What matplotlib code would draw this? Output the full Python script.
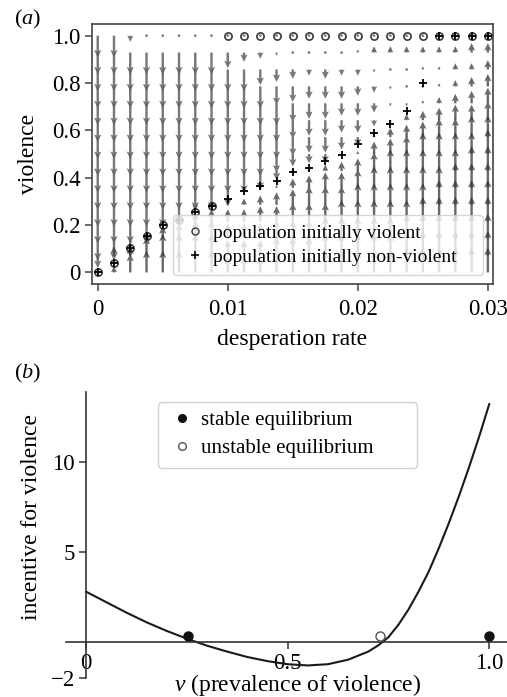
import numpy as np
import matplotlib
matplotlib.use('Agg')
import matplotlib.pyplot as plt
from matplotlib.lines import Line2D

plt.rcParams['font.family'] = ['Liberation Serif', 'DejaVu Serif']
plt.rcParams['mathtext.fontset'] = 'custom'
plt.rcParams['mathtext.rm'] = 'Liberation Serif'
plt.rcParams['mathtext.it'] = 'Liberation Serif:italic'

# ---------------- panel (a) data ----------------
desperation = [0.0, 0.00125, 0.0025, 0.00375, 0.005, 0.00625, 0.0075, 0.00875,
               0.01, 0.01125, 0.0125, 0.01375, 0.015, 0.01625, 0.0175, 0.01875,
               0.02, 0.02125, 0.0225, 0.02375, 0.025, 0.02625, 0.0275, 0.02875, 0.03]
violence_levels = [0.0, 0.0714, 0.1429, 0.2143, 0.2857, 0.3571, 0.4286, 0.5,
                   0.5714, 0.6429, 0.7143, 0.7857, 0.8571, 0.9286, 1.0]
# arrow length (hundredths of violence) per column, bottom -> top
arrow_len = [
    [0, -4, -7, -7, -7, -7, -7, -7, -7, -7, -7, -7, -7, -7, -7],
    [2, 3, -7, -7, -7, -7, -7, -7, -7, -7, -7, -7, -7, -7, -7],
    [6, 3, -6, -7, -7, -7, -7, -7, -7, -7, -7, -7, -7, -7, -2],
    [7, 6, 1, -7, -7, -7, -7, -7, -7, -7, -7, -7, -7, -7, 0],
    [7, 7, 4, -1, -7, -7, -7, -7, -7, -7, -7, -7, -7, -7, 0],
    [7, 7, 5, 0, -7, -7, -7, -7, -7, -7, -7, -7, -7, -7, 0],
    [7, 7, 6, 3, -2, -7, -7, -7, -7, -7, -7, -7, -7, -7, 0],
    [7, 7, 6, 4, 0, -7, -7, -7, -7, -7, -7, -7, -7, -7, 0],
    [5, 5, 5, 4, 1, -6, -7, -7, -7, -7, -7, -7, -7, -5, 0],
    [5, 5, 5, 4, 2, -1, -7, -7, -7, -7, -7, -7, -7, -3, 0],
    [5, 5, 5, 5, 3, 0, -6, -7, -7, -7, -7, -7, -5, -2, 0],
    [6, 6, 6, 5, 4, 1, -3, -6, -7, -7, -7, -6, -4, -1, 0],
    [6, 6, 6, 6, 5, 3, 0, -4, -6, -6, -6, -5, -3, 0, 0],
    [6, 6, 6, 6, 6, 4, 1, -3, -5, -5, -5, -4, -2, 0, 0],
    [7, 7, 7, 6, 6, 5, 2, -3, -5, -5, -5, -4, -3, 0, 0],
    [7, 7, 7, 7, 6, 5, 3, -1, -4, -4, -4, -4, -2, 0, 0],
    [7, 7, 7, 7, 7, 6, 4, 1, -3, -4, -4, -3, -2, 1, 0],
    [7, 7, 7, 7, 7, 7, 6, 4, 1, -2, -3, -2, -1, 2, 0],
    [7, 7, 7, 7, 7, 7, 7, 5, 3, -1, -1, -1, 0, 2, 0],
    [8, 8, 8, 7, 7, 7, 7, 6, 4, 2, -1, 0, 0, 2, 0],
    [8, 8, 8, 8, 7, 7, 7, 7, 5, 3, 1, 0, 1, 2, 0],
    [8, 8, 8, 8, 8, 7, 7, 7, 6, 4, 2, 1, 1, 2, 0],
    [8, 8, 8, 8, 8, 8, 7, 7, 6, 5, 3, 2, 2, 2, 0],
    [8, 8, 8, 8, 8, 8, 8, 7, 7, 5, 4, 3, 2, 3, 0],
    [8, 8, 8, 8, 8, 8, 8, 8, 7, 6, 5, 4, 3, 3, 0],
]
eq_violent = [0.0, 0.038, 0.105, 0.155, 0.200, 0.221, 0.255, 0.282,
              1.0, 1.0, 1.0, 1.0, 1.0, 1.0, 1.0, 1.0, 1.0, 1.0, 1.0, 1.0, 1.0,
              1.0, 1.0, 1.0, 1.0]
eq_nonviolent = [0.0, 0.038, 0.105, 0.155, 0.200, 0.221, 0.255, 0.282,
                 0.308, 0.345, 0.366, 0.388, 0.425, 0.442, 0.471, 0.494,
                 0.542, 0.590, 0.628, 0.683, 0.799, 1.0, 1.0, 1.0, 1.0]
xticks_a = [0, 0.01, 0.02, 0.03]
xticklabels_a = ['0', '0.01', '0.02', '0.03']
yticks_a = [0, 0.2, 0.4, 0.6, 0.8, 1.0]
yticklabels_a = ['0', '0.2', '0.4', '0.6', '0.8', '1.0']

# ---------------- panel (b) data ----------------
v_b = [0.0, 0.05, 0.10, 0.15, 0.20, 0.25, 0.30, 0.35, 0.40, 0.45, 0.50, 0.55,
       0.60, 0.65, 0.70, 0.725, 0.75, 0.775, 0.80, 0.825, 0.85, 0.875, 0.90,
       0.925, 0.95, 0.975, 1.0]
incentive = [2.78, 2.2, 1.62, 1.08, 0.6, 0.17, -0.22, -0.55, -0.85, -1.08, -1.25,
             -1.32, -1.25, -1.0, -0.55, -0.2, 0.25, 0.95, 1.8, 2.8, 3.9, 5.2,
             6.6, 8.1, 9.7, 11.4, 13.2]
stable_v = [0.254, 1.0]
stable_y = [0.3, 0.3]
unstable_v = [0.729]
unstable_y = [0.3]
xticks_b = [0, 0.5, 1.0]
xticklabels_b = ['0', '0.5', '1.0']
yticks_b = [-2, 5, 10]
yticklabels_b = ['\u22122', '5', '10']

fig = plt.figure(figsize=(5.07, 6.97), dpi=100)

# ---------------- panel (a) ----------------
ax = fig.add_axes([0.1815, 0.5925, 0.791, 0.373])
X, Y = np.meshgrid(desperation, violence_levels, indexing='ij')
L = np.array(arrow_len, dtype=float) / 100.0
U = np.zeros_like(L)
down = L <= 0
up = L > 0
qkw = dict(angles='xy', scale_units='xy', scale=0.76, width=0.006,
           headwidth=3.0, headlength=3.1, headaxislength=2.7, minlength=1.2,
           zorder=2)
ax.quiver(X[down], Y[down], U[down], L[down], color='#606060', alpha=0.85, **qkw)
ax.quiver(X[up], Y[up], U[up], L[up], color='#383838', alpha=0.75, **qkw)

ax.plot(desperation, eq_violent, linestyle='none', marker='o', ms=5.2,
        mfc='none', mec='#3a3a3a', mew=1.2, zorder=3)
ax.plot(desperation, eq_nonviolent, linestyle='none', marker='+', ms=6,
        color='black', mew=1.3, zorder=4)

ax.set_xlim(-0.00044, 0.0304)
ax.set_ylim(-0.049, 1.049)
ax.set_xticks(xticks_a)
ax.set_xticklabels(xticklabels_a)
ax.set_yticks(yticks_a)
ax.set_yticklabels(yticklabels_a)
ax.tick_params(labelsize=16.5, length=5, width=1.1, color='#444444', pad=3)
ax.tick_params(axis='x', pad=6)
for s in ax.spines.values():
    s.set_color('#444444')
    s.set_linewidth(1.2)

h1 = Line2D([], [], linestyle='none', marker='o', ms=5, mfc='none', mec='#444444', mew=1.1)
h2 = Line2D([], [], linestyle='none', marker='+', ms=6, color='black', mew=1.2)
leg = ax.legend([h1, h2], ['population initially violent', 'population initially non-violent'],
                loc='lower left', bbox_to_anchor=(0.202, 0.035, 0.773, 0.5), mode='expand',
                fontsize=14, framealpha=0.8, edgecolor='#cccccc', handlelength=1.4,
                handletextpad=0.2, borderpad=0.45, labelspacing=0.35,
                borderaxespad=0)
leg.set_zorder(6)

fig.text(28 / 507, 1 - 154 / 697, 'violence', rotation=90, ha='center', va='center', fontsize=17)
fig.text(292.5 / 507, 1 - 339 / 697, 'desperation rate', ha='center', va='center', fontsize=17)
fig.text(28 / 507, 1 - 19 / 697, '($a$)', ha='center', va='center', fontsize=16)

# ---------------- panel (b) ----------------
bx = fig.add_axes([0.1298, 0.0277, 0.871, 0.4106])
bx.plot(v_b, incentive, color='#1a1a1a', lw=1.5, zorder=2)
bx.plot(stable_v, stable_y, linestyle='none', marker='o', ms=6.5, color='#111111', zorder=3)
bx.plot(unstable_v, unstable_y, linestyle='none', marker='o', ms=6.5, mfc='white',
        mec='#555555', mew=1.0, zorder=3)
bx.set_xlim(-0.05, 1.045)
bx.set_ylim(-2, 13.9)
bx.spines['left'].set_position(('data', 0))
bx.spines['bottom'].set_position(('data', 0))
bx.spines['top'].set_visible(False)
bx.spines['right'].set_visible(False)
for s in ('left', 'bottom'):
    bx.spines[s].set_color('#333333')
    bx.spines[s].set_linewidth(1.2)
bx.set_xticks(xticks_b)
bx.set_xticklabels(xticklabels_b)
bx.set_yticks(yticks_b)
bx.set_yticklabels(yticklabels_b)
bx.tick_params(labelsize=16.5, length=5, width=1.1, color='#333333', pad=3)
bx.patch.set_alpha(0)

s1 = Line2D([], [], linestyle='none', marker='o', ms=5.5, color='#111111')
s2 = Line2D([], [], linestyle='none', marker='o', ms=5.5, mfc='white', mec='#555555', mew=1.0)
bx.legend([s1, s2], ['stable equilibrium', 'unstable equilibrium'], loc='upper left',
          bbox_to_anchor=(0.2088, 0.0, 0.5865, 0.965), mode='expand', fontsize=15,
          framealpha=0.9, edgecolor='#cccccc', handlelength=1.4, handletextpad=0.2,
          borderpad=0.45, labelspacing=0.4, borderaxespad=0)

fig.text(32 / 507, 1 - 516.7 / 697, 'incentive for violence', rotation=90, ha='center',
         va='center', fontsize=17)
fig.text(297 / 507, 1 - 685 / 697, '$v$ (prevalence of violence)', ha='center',
         va='center', fontsize=17)
fig.text(28 / 507, 1 - 373 / 697, '($b$)', ha='center', va='center', fontsize=16)

fig.savefig('out.png', dpi=100)
